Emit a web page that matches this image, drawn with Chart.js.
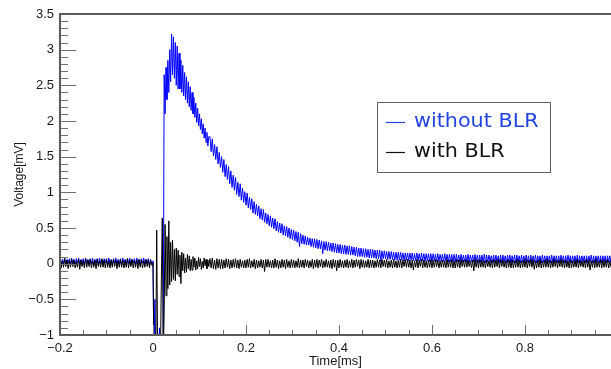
<!DOCTYPE html>
<html>
<head>
<meta charset="utf-8">
<script src="https://cdn.jsdelivr.net/npm/chart.js@4/dist/chart.umd.min.js"></script>
<style>
html,body{margin:0;padding:0;background:#fff;}
#wrap{width:611px;height:369px;position:relative;}
</style>
</head>
<body>
<div id="wrap"><canvas id="c" width="611" height="369"></canvas></div>
<script>
// ---- data ----
const timeMs = [
-0.2,-0.1975,-0.195,-0.1925,-0.19,-0.1875,-0.185,-0.1825,-0.18,-0.1775,
-0.175,-0.1725,-0.17,-0.1675,-0.165,-0.1625,-0.16,-0.1575,-0.155,-0.1525,
-0.15,-0.1475,-0.145,-0.1425,-0.14,-0.1375,-0.135,-0.1325,-0.13,-0.1275,
-0.125,-0.1225,-0.12,-0.1175,-0.115,-0.1125,-0.11,-0.1075,-0.105,-0.1025,
-0.1,-0.0975,-0.095,-0.0925,-0.09,-0.0875,-0.085,-0.0825,-0.08,-0.0775,
-0.075,-0.0725,-0.07,-0.0675,-0.065,-0.0625,-0.06,-0.0575,-0.055,-0.0525,
-0.05,-0.0475,-0.045,-0.0425,-0.04,-0.0375,-0.035,-0.0325,-0.03,-0.0275,
-0.025,-0.0225,-0.02,-0.0175,-0.015,-0.0125,-0.01,-0.0075,-0.005,
-0.004,-0.002,0,0.002,0.004,0.006,0.008,0.01,0.012,0.014,0.016,0.018,0.02,0.022,0.024,0.026,0.028,0.03,0.032,0.034,0.036,0.038,
0.04,0.042,0.044,0.046,0.048,0.05,0.052,0.054,0.056,0.058,0.06,0.062,0.064,0.066,0.068,0.07,0.072,0.074,0.076,0.078,0.08,0.082,
0.084,0.086,0.088,0.09,0.092,0.094,0.096,0.098,0.1,0.102,0.104,0.106,0.108,0.11,0.112,0.114,0.116,0.118,0.12,
0.1225,0.125,0.1275,0.13,0.1325,0.135,0.1375,0.14,0.1425,0.145,
0.1475,0.15,0.1525,0.155,0.1575,0.16,0.1625,0.165,0.1675,0.17,
0.1725,0.175,0.1775,0.18,0.1825,0.185,0.1875,0.19,0.1925,0.195,
0.1975,0.2,0.2025,0.205,0.2075,0.21,0.2125,0.215,0.2175,0.22,
0.2225,0.225,0.2275,0.23,0.2325,0.235,0.2375,0.24,0.2425,0.245,
0.2475,0.25,0.2525,0.255,0.2575,0.26,0.2625,0.265,0.2675,0.27,
0.2725,0.275,0.2775,0.28,0.2825,0.285,0.2875,0.29,0.2925,0.295,
0.2975,0.3,0.3025,0.305,0.3075,0.31,0.3125,0.315,0.3175,0.32,
0.3225,0.325,0.3275,0.33,0.3325,0.335,0.3375,0.34,0.3425,0.345,
0.3475,0.35,0.3525,0.355,0.3575,0.36,0.3625,0.365,0.3675,0.37,
0.3725,0.375,0.3775,0.38,0.3825,0.385,0.3875,0.39,0.3925,0.395,
0.3975,0.4,0.4025,0.405,0.4075,0.41,0.4125,0.415,0.4175,0.42,
0.4225,0.425,0.4275,0.43,0.4325,0.435,0.4375,0.44,0.4425,0.445,
0.4475,0.45,0.4525,0.455,0.4575,0.46,0.4625,0.465,0.4675,0.47,
0.4725,0.475,0.4775,0.48,0.4825,0.485,0.4875,0.49,0.4925,0.495,
0.4975,0.5,0.5025,0.505,0.5075,0.51,0.5125,0.515,0.5175,0.52,
0.5225,0.525,0.5275,0.53,0.5325,0.535,0.5375,0.54,0.5425,0.545,
0.5475,0.55,0.5525,0.555,0.5575,0.56,0.5625,0.565,0.5675,0.57,
0.5725,0.575,0.5775,0.58,0.5825,0.585,0.5875,0.59,0.5925,0.595,
0.5975,0.6,0.6025,0.605,0.6075,0.61,0.6125,0.615,0.6175,0.62,
0.6225,0.625,0.6275,0.63,0.6325,0.635,0.6375,0.64,0.6425,0.645,
0.6475,0.65,0.6525,0.655,0.6575,0.66,0.6625,0.665,0.6675,0.67,
0.6725,0.675,0.6775,0.68,0.6825,0.685,0.6875,0.69,0.6925,0.695,
0.6975,0.7,0.7025,0.705,0.7075,0.71,0.7125,0.715,0.7175,0.72,
0.7225,0.725,0.7275,0.73,0.7325,0.735,0.7375,0.74,0.7425,0.745,
0.7475,0.75,0.7525,0.755,0.7575,0.76,0.7625,0.765,0.7675,0.77,
0.7725,0.775,0.7775,0.78,0.7825,0.785,0.7875,0.79,0.7925,0.795,
0.7975,0.8,0.8025,0.805,0.8075,0.81,0.8125,0.815,0.8175,0.82,
0.8225,0.825,0.8275,0.83,0.8325,0.835,0.8375,0.84,0.8425,0.845,
0.8475,0.85,0.8525,0.855,0.8575,0.86,0.8625,0.865,0.8675,0.87,
0.8725,0.875,0.8775,0.88,0.8825,0.885,0.8875,0.89,0.8925,0.895,
0.8975,0.9,0.9025,0.905,0.9075,0.91,0.9125,0.915,0.9175,0.92,
0.9225,0.925,0.9275,0.93,0.9325,0.935,0.9375,0.94,0.9425,0.945,
0.9475,0.95,0.9525,0.955,0.9575,0.96,0.9625,0.965,0.9675,0.97,
0.9725,0.975,0.9775,0.98,0.9825,0.985
];

// Voltage [mV], "without BLR" (blue)
const withoutBLR = [
0.07,-0.01,0.06,0.0,0.08,-0.02,0.06,0.01,0.07,-0.01,
0.08,0.0,0.06,-0.02,0.07,0.01,0.08,-0.01,0.06,0.0,
0.07,-0.02,0.08,0.01,0.06,-0.01,0.07,0.0,0.08,-0.02,
0.06,0.01,0.07,-0.01,0.08,0.0,0.06,-0.02,0.07,0.01,
0.07,-0.01,0.08,0.0,0.06,-0.02,0.07,0.01,0.08,-0.01,
0.06,0.0,0.07,-0.02,0.08,0.01,0.06,-0.01,0.07,0.0,
0.08,-0.02,0.06,0.01,0.07,-0.01,0.08,0.0,0.06,-0.02,
0.07,0.01,0.08,-0.01,0.06,0.0,0.07,-0.02,0.06,
0.03,0.01,0.04,-1.3,-0.5,-1.3,-1.3,-1.3,-1.3,-0.9,-1.3,-1.3,-1.3,-1.3,2.65,2.1,2.75,2.3,2.85,2.4,3.0,2.55,
3.22,2.65,3.18,2.6,3.1,2.5,3.05,2.45,2.95,2.45,2.85,2.4,2.78,2.35,2.68,2.3,2.62,2.25,2.55,2.2,2.48,2.15,
2.4,2.1,2.33,2.05,2.25,1.98,2.18,1.93,2.1,1.88,2.03,1.82,1.96,1.76,1.9,1.7,1.84,1.65,1.78,
1.78,1.57,1.75,1.51,1.67,1.46,1.64,1.40,1.56,1.35,
1.50,1.28,1.46,1.22,1.39,1.18,1.36,1.12,1.30,1.07,
1.24,1.03,1.21,0.97,1.14,0.94,1.12,0.89,1.06,0.86,
1.01,0.82,0.99,0.78,0.93,0.76,0.91,0.71,0.87,0.69,
0.83,0.67,0.81,0.63,0.77,0.61,0.76,0.58,0.71,0.56,
0.69,0.53,0.67,0.51,0.64,0.49,0.63,0.46,0.59,0.44,
0.57,0.43,0.56,0.40,0.53,0.39,0.52,0.37,0.50,0.35,
0.48,0.34,0.47,0.32,0.45,0.30,0.44,0.24,0.42,0.28,
0.40,0.27,0.39,0.26,0.37,0.26,0.36,0.24,0.35,0.23,
0.35,0.22,0.34,0.21,0.33,0.21,0.32,0.14,0.31,0.19,
0.31,0.18,0.30,0.18,0.29,0.17,0.29,0.16,0.28,0.15,
0.27,0.15,0.27,0.14,0.26,0.14,0.26,0.13,0.25,0.13,
0.25,0.12,0.24,0.12,0.23,0.11,0.23,0.10,0.22,0.10,
0.22,0.10,0.21,0.09,0.21,0.09,0.20,0.08,0.20,0.08,
0.20,0.08,0.19,0.07,0.19,0.07,0.19,0.03,0.18,0.07,
0.18,0.07,0.17,0.06,0.17,0.06,0.17,0.06,0.16,0.05,
0.16,0.05,0.16,0.05,0.16,0.05,0.15,0.04,0.15,0.05,
0.15,0.04,0.15,0.05,0.15,0.04,0.14,0.04,0.15,0.04,
0.14,0.04,0.15,0.04,0.14,0.03,0.14,0.04,0.14,0.03,
0.14,0.03,0.14,0.04,0.13,0.03,0.14,0.03,0.13,0.03,
0.13,0.03,0.14,0.03,0.13,0.02,0.13,0.03,0.13,0.02,
0.13,0.02,0.13,0.03,0.12,0.02,0.13,0.02,0.12,0.03,
0.12,0.02,0.13,0.02,0.12,0.03,0.12,0.02,0.13,0.02,
0.12,0.01,0.12,0.02,0.12,0.02,0.13,0.01,0.12,0.02,
0.12,0.02,0.11,0.01,0.12,0.02,0.12,0.02,0.11,0.01,
0.12,0.01,0.12,0.02,0.11,0.01,0.12,0.02,0.12,0.01,
0.11,0.02,0.12,0.01,0.12,0.02,0.11,0.01,0.12,0.02,
0.11,0.01,0.12,0.02,0.11,0.01,0.12,0.01,0.11,0.02,
0.12,0.01,0.11,0.02,0.11,0.01,0.12,0.02,0.11,0.01,
0.11,0.02,0.11,0.01,0.12,0.01,0.11,0.02,0.11,0.01,
0.11,0.01,0.12,0.02,0.11,0.01,0.11,0.01,0.12,0.02,
0.11,0.01,0.11,0.02,0.11,0.01,0.12,0.01,0.11,0.01,
0.11,0.02,0.11,0.01,0.11,0.01,0.11,0.02,0.12,0.01,
0.11,0.01,0.11,0.02,0.11,0.01,0.11,0.01,0.11,0.02,
0.11,0.01,0.11,0.02,0.11,0.01
];

// Voltage [mV], "with BLR" (black)
const withBLR = [
0.05,-0.06,0.04,-0.05,0.07,-0.04,0.05,-0.07,0.04,-0.05,
0.06,-0.04,0.05,-0.06,0.03,-0.05,0.06,-0.08,0.05,-0.04,
0.04,-0.06,0.07,-0.05,0.05,-0.04,0.06,-0.06,0.04,-0.05,
0.05,-0.07,0.06,-0.04,0.04,-0.05,0.07,-0.05,0.05,-0.06,
0.06,-0.05,0.04,-0.06,0.05,-0.05,0.06,-0.04,0.05,-0.07,
0.04,-0.05,0.06,-0.05,0.05,-0.06,0.04,-0.05,0.07,-0.06,
0.05,-0.04,0.06,-0.06,0.04,-0.05,0.05,-0.07,0.06,-0.05,
0.05,-0.06,0.04,-0.05,0.06,-0.04,0.05,-0.06,0.04,
0.02,-0.03,0.01,-1.3,-1.3,-1.3,0.47,-1.3,-1.3,-1.3,-1.3,-0.2,0.64,-1.3,-0.7,0.55,-0.45,0.38,-0.35,0.6,-0.3,0.3,
-0.25,0.33,-0.22,0.2,-0.24,0.22,-0.15,0.19,-0.18,0.12,-0.28,0.16,-0.1,0.14,-0.13,0.08,-0.12,0.13,-0.07,0.11,-0.1,0.06,
-0.09,0.1,-0.05,0.08,-0.09,0.04,-0.07,0.09,-0.04,0.07,-0.08,0.03,-0.06,0.08,-0.03,0.06,-0.07,0.05,-0.04,
0.07,-0.06,0.08,-0.07,0.05,-0.08,0.07,-0.06,0.06,-0.07,
0.06,-0.07,0.05,-0.06,0.07,-0.05,0.06,-0.07,0.05,-0.06,
0.06,-0.05,0.07,-0.06,0.05,-0.07,0.06,-0.05,0.04,-0.06,
0.05,-0.06,0.06,-0.05,0.07,-0.06,0.04,-0.05,0.06,-0.07,
0.05,-0.06,0.04,-0.05,0.06,-0.06,0.05,-0.11,0.06,-0.05,
0.06,-0.05,0.04,-0.06,0.05,-0.06,0.07,-0.05,0.05,-0.07,
0.04,-0.06,0.06,-0.05,0.05,-0.07,0.06,-0.05,0.04,-0.06,
0.06,-0.05,0.05,-0.06,0.04,-0.05,0.07,-0.06,0.05,-0.05,
0.05,-0.06,0.06,-0.04,0.05,-0.06,0.04,-0.05,0.06,-0.07,
0.05,-0.05,0.06,-0.06,0.05,-0.04,0.06,-0.06,0.04,-0.05,
0.06,-0.05,0.04,-0.06,0.05,-0.07,0.06,-0.05,0.05,-0.10,
0.05,-0.06,0.06,-0.05,0.04,-0.06,0.05,-0.05,0.06,-0.06,
0.04,-0.05,0.06,-0.06,0.05,-0.05,0.06,-0.04,0.05,-0.07,
0.06,-0.05,0.05,-0.06,0.04,-0.05,0.06,-0.06,0.05,-0.05,
0.05,-0.06,0.04,-0.05,0.06,-0.05,0.05,-0.06,0.06,-0.04,
0.05,-0.05,0.06,-0.06,0.04,-0.05,0.05,-0.06,0.06,-0.05,
0.04,-0.06,0.05,-0.05,0.06,-0.06,0.05,-0.04,0.06,-0.05,
0.06,-0.05,0.05,-0.06,0.05,-0.09,0.04,-0.05,0.06,-0.06,
0.05,-0.04,0.06,-0.06,0.05,-0.05,0.04,-0.06,0.05,-0.05,
0.06,-0.06,0.05,-0.05,0.06,-0.04,0.05,-0.06,0.04,-0.05,
0.05,-0.05,0.04,-0.06,0.06,-0.05,0.05,-0.05,0.06,-0.06,
0.04,-0.06,0.06,-0.05,0.05,-0.06,0.06,-0.04,0.05,-0.05,
0.06,-0.05,0.05,-0.04,0.04,-0.06,0.05,-0.10,0.06,-0.05,
0.05,-0.06,0.06,-0.05,0.05,-0.05,0.04,-0.06,0.05,-0.04,
0.04,-0.05,0.05,-0.06,0.06,-0.05,0.05,-0.04,0.06,-0.06,
0.06,-0.04,0.05,-0.05,0.04,-0.06,0.06,-0.05,0.05,-0.06,
0.05,-0.06,0.04,-0.05,0.06,-0.05,0.05,-0.06,0.04,-0.05,
0.05,-0.05,0.06,-0.06,0.05,-0.04,0.06,-0.05,0.05,-0.08,
0.04,-0.06,0.05,-0.05,0.06,-0.06,0.04,-0.05,0.05,-0.05,
0.06,-0.05,0.05,-0.06,0.04,-0.05,0.06,-0.04,0.05,-0.06,
0.05,-0.04,0.06,-0.05,0.05,-0.06,0.05,-0.05,0.04,-0.06,
0.06,-0.06,0.04,-0.05,0.05,-0.05,0.06,-0.06,0.05,-0.04,
0.04,-0.05,0.05,-0.06,0.06,-0.05,0.05,-0.09,0.04,-0.05,
0.05,-0.06,0.06,-0.05,0.04,-0.05,0.06,-0.06,0.05,-0.05,
0.05,-0.05,0.06,-0.06,0.04,-0.05
];

const seriesLabels = ['without BLR', 'with BLR'];
const xRange = [-0.2, 0.985];
const yRange = [-1, 3.5];

if (withoutBLR.length !== timeMs.length || withBLR.length !== timeMs.length) {
  console.error('length mismatch', timeMs.length, withoutBLR.length, withBLR.length);
}

const toPoints = arr => timeMs.map((t, i) => ({x: t, y: arr[i]}));
const fmt = v => {
  const s = String(Math.round(v * 10) / 10);
  return s.replace('-', '\u2212');
};

const frameTicks = {
  id: 'frameTicks',
  afterDatasetsDraw(chart) {
    const {ctx, chartArea: a, scales: {x, y}} = chart;
    ctx.save();
    ctx.strokeStyle = '#707070';
    ctx.lineWidth = 1;
    ctx.beginPath();
    for (let i = 0; i <= 45; i++) {
      const v = yRange[0] + i * 0.1;
      const p = Math.round(y.getPixelForValue(v)) + 0.5;
      const len = (i % 5 === 0) ? 16 : 8;
      ctx.moveTo(a.left, p); ctx.lineTo(a.left + len, p);
    }
    for (let i = 0; i <= 24; i++) {
      const v = xRange[0] + i * 0.05;
      if (v > xRange[1] + 1e-9) break;
      const p = Math.round(x.getPixelForValue(v)) + 0.5;
      const len = (i % 4 === 0) ? 10 : 5;
      ctx.moveTo(p, a.bottom); ctx.lineTo(p, a.bottom - len);
    }
    ctx.stroke();
    ctx.strokeStyle = '#5a5a5a';
    ctx.lineWidth = 2;
    ctx.beginPath();
    ctx.moveTo(a.right, a.top); ctx.lineTo(a.left, a.top);
    ctx.lineTo(a.left, a.bottom); ctx.lineTo(a.right, a.bottom);
    ctx.stroke();
    ctx.restore();
  },
  afterDraw(chart) {
    const ctx = chart.ctx;
    ctx.save();
    ctx.fillStyle = '#fff';
    ctx.fillRect(377.5, 102.5, 173, 70);
    ctx.strokeStyle = '#606060';
    ctx.lineWidth = 1;
    ctx.strokeRect(377.5, 102.5, 173, 70);
    const items = [
      {text: seriesLabels[0], color: '#2244e0', y: 122},
      {text: seriesLabels[1], color: '#111111', y: 152}
    ];
    ctx.font = '19px "DejaVu Sans", sans-serif';
    ctx.textBaseline = 'middle';
    ctx.textAlign = 'left';
    for (const it of items) {
      ctx.strokeStyle = it.color;
      ctx.lineWidth = 1.2;
      ctx.beginPath();
      ctx.moveTo(386, it.y + 0.5); ctx.lineTo(405, it.y + 0.5);
      ctx.stroke();
      ctx.fillStyle = it.color;
      ctx.save();
      ctx.translate(414, it.y);
      ctx.scale(1.09, 1);
      ctx.fillText(it.text, 0, 0);
      ctx.restore();
    }
    ctx.restore();
  }
};

const axisFont = {family: '"Liberation Sans", Arial, sans-serif', size: 13};

new Chart(document.getElementById('c'), {
  type: 'line',
  data: {
    datasets: [
      {label: seriesLabels[0], data: toPoints(withoutBLR), borderColor: '#0000ff', borderWidth: 1, borderJoinStyle: 'bevel', pointRadius: 0, tension: 0, order: 2},
      {label: seriesLabels[1], data: toPoints(withBLR), borderColor: '#000000', borderWidth: 1, borderJoinStyle: 'bevel', pointRadius: 0, tension: 0, order: 1}
    ]
  },
  options: {
    responsive: false,
    animation: false,
    events: [],
    layout: {padding: {top: 14, left: 0, right: 0, bottom: 0}},
    plugins: {legend: {display: false}, tooltip: {enabled: false}},
    scales: {
      x: {
        type: 'linear', min: xRange[0], max: xRange[1],
        grid: {display: false, drawTicks: false},
        border: {display: false},
        ticks: {stepSize: 0.2, includeBounds: false, autoSkip: false, maxRotation: 0, padding: 6,
                font: axisFont, color: '#1a1a1a', callback: v => fmt(v)},
        title: {display: true, text: 'Time[ms]', font: axisFont, color: '#1a1a1a', padding: {top: 0, bottom: 0}},
        afterFit: s => { s.height = 34; }
      },
      y: {
        type: 'linear', min: yRange[0], max: yRange[1],
        grid: {display: false, drawTicks: false},
        border: {display: false},
        ticks: {stepSize: 0.5, includeBounds: false, autoSkip: false, padding: 6,
                font: axisFont, color: '#1a1a1a', callback: v => fmt(v)},
        title: {display: true, text: 'Voltage[mV]', font: {family: axisFont.family, size: 12}, color: '#1a1a1a', padding: {top: 12, bottom: 0}},
        afterFit: s => { s.width = 60; }
      }
    }
  },
  plugins: [frameTicks]
});
</script>
</body>
</html>
